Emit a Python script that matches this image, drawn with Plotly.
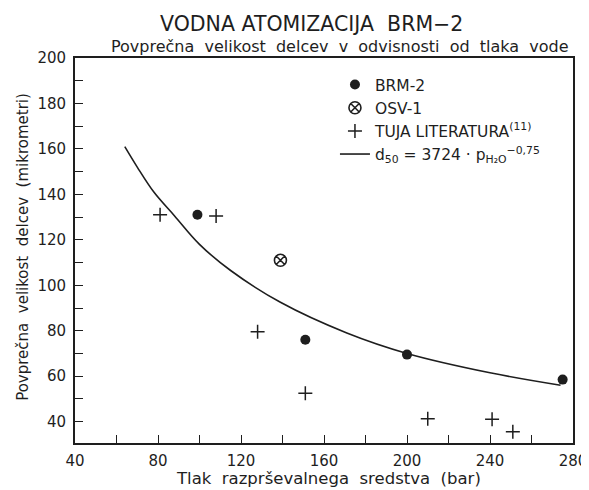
import plotly.graph_objects as go

# Data
brm_x = [99, 151, 200, 275]
brm_y = [131, 76, 69.5, 58.5]

osv_x = [139]
osv_y = [111]

lit_x = [81, 108, 128, 151, 210, 241, 251]
lit_y = [131, 130.5, 79.5, 52.5, 41.3, 41, 35.5]

# fitted curve d50 = 3724 * p^-0.75
fit_x = [64, 70, 78, 88, 100, 115, 139, 171, 200, 240, 274]
fit_y = [161, 152, 141, 130.5, 118, 106.5, 92.5, 79, 70, 61.5, 56]

x_ticks = [40, 80, 120, 160, 200, 240, 280]
y_ticks = [40, 60, 80, 100, 120, 140, 160, 180, 200]

INK = "#1e1e1e"
FONT = "DejaVu Sans"

fig = go.Figure()

fig.add_trace(go.Scatter(
    x=brm_x, y=brm_y, mode="markers", name="BRM-2",
    marker=dict(symbol="circle", size=10, color=INK),
))
fig.add_trace(go.Scatter(
    x=osv_x, y=osv_y, mode="markers", name="OSV-1",
    marker=dict(symbol="circle-x-open", size=12, color=INK, line=dict(width=1.6, color=INK)),
))
fig.add_trace(go.Scatter(
    x=lit_x, y=lit_y, mode="markers", name="TUJA LITERATURA<sup>(11)</sup>",
    marker=dict(symbol="cross-thin-open", size=10, color=INK, line=dict(width=1.5, color=INK)),
))
fig.add_trace(go.Scatter(
    x=fit_x, y=fit_y, mode="lines",
    name="d<sub>50</sub> = 3724 · p<sub>H₂O</sub><sup>−0,75</sup>",
    line=dict(color=INK, width=1.6, shape="spline", smoothing=1.0),
))

axis_common = dict(
    showline=True, linecolor=INK, linewidth=1.8, mirror=True,
    ticks="inside", ticklen=8, tickwidth=1.3, tickcolor=INK,
    showgrid=False, zeroline=False,
    tickfont=dict(family=FONT, size=15, color=INK),
    automargin=False,
)

fig.update_xaxes(
    range=[40, 280], tickvals=x_ticks, ticklabelstandoff=3,
    minor=dict(dtick=20, ticks="inside", ticklen=8, tickwidth=1.3, tickcolor=INK, showgrid=False),
    **axis_common,
)
fig.update_yaxes(
    range=[30.6, 200], tickvals=y_ticks, ticklabelstandoff=4,
    minor=dict(dtick=10, ticks="inside", ticklen=8, tickwidth=1.3, tickcolor=INK, showgrid=False),
    **axis_common,
)

# the page body has an 8px margin: size the figure so the plot lands where the reference has it
fig.update_layout(
    width=581, height=482,
    margin=dict(l=67, r=16, t=50, b=47),
    paper_bgcolor="white", plot_bgcolor="white",
    font=dict(family=FONT, color=INK),
    showlegend=True,
    legend=dict(
        x=0.522, y=0.974, xanchor="left", yanchor="top",
        bgcolor="rgba(0,0,0,0)", borderwidth=0,
        font=dict(family=FONT, size=15.5, color=INK),
        itemwidth=30, tracegroupgap=0,
    ),
    annotations=[
        dict(text="VODNA ATOMIZACIJA  BRM−2", xref="paper", yref="paper",
             x=0.474, y=1.088, xanchor="center", yanchor="middle", showarrow=False,
             font=dict(family=FONT, size=20.5, color=INK)),
        dict(text="Povprečna  velikost  delcev  v  odvisnosti  od  tlaka  vode", xref="paper", yref="paper",
             x=0.532, y=1.03, xanchor="center", yanchor="middle", showarrow=False,
             font=dict(family=FONT, size=16, color=INK)),
        dict(text="Tlak  razprševalnega  sredstva  (bar)", xref="paper", yref="paper",
             x=0.51, y=-0.091, xanchor="center", yanchor="middle", showarrow=False,
             font=dict(family=FONT, size=16.5, color=INK)),
        dict(text="Povprečna  velikost  delcev  (mikrometri)", xref="paper", yref="paper",
             x=-0.106, y=0.51, xanchor="center", yanchor="middle", showarrow=False, textangle=-90,
             font=dict(family=FONT, size=15, color=INK)),
    ],
)

fig.write_html("out.html")
